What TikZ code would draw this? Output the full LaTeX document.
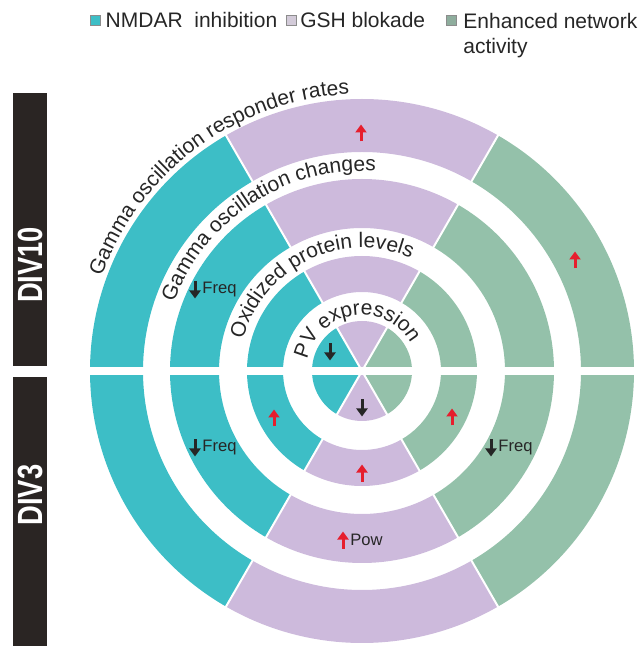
\documentclass[tikz,border=0pt]{standalone}
\usepackage{fontspec}
\setmainfont{Liberation Sans}
\usepackage{graphicx}
\usetikzlibrary{arrows.meta, decorations.text, positioning}

\definecolor{nmdar}{RGB}{61,190,198}
\definecolor{gshblk}{RGB}{205,186,220}
\definecolor{enhnet}{RGB}{148,193,170}
\definecolor{divbar}{RGB}{42,37,35}
\definecolor{upred}{RGB}{230,30,45}

\newcommand{\ringfont}{\fontsize{10.5}{12}\selectfont\color{black!85}}
% colour, start angle, end angle, inner radius, outer radius
\newcommand{\ringsector}[5]{%
  \fill[#1] (#2:#4) arc[start angle=#2, end angle=#3, radius=#4]
    -- (#3:#5) arc[start angle=#3, end angle=#2, radius=#5] -- cycle;}

\begin{document}
\begin{tikzpicture}[x=0.5pt, y=0.5pt,
    legsq/.style={draw=black!45, line width=0.4pt, minimum size=5pt, inner sep=0pt},
    legtxt/.style={font=\fontsize{10.5}{12.5}\selectfont, text=black!85, inner sep=0pt, align=left},
    ringtxt/.style={decorate, decoration={text along path, text align=left, text={|\ringfont|#1}}},
    divtxt/.style={text=white, rotate=90, inner sep=0pt, font=\fontsize{17.5}{20}\selectfont\bfseries},
    effect/.style={font=\fontsize{8.3}{10}\selectfont, inner sep=0pt, anchor=west, text=black!85},
    uparr/.pic={\draw[upred, line width=1.5pt, -{Triangle[width=5.5pt,length=4pt]}] (0,-8.5) -- (0,8.5);},
    dnarr/.pic={\draw[black!85, line width=1.5pt, -{Triangle[width=5.5pt,length=4pt]}] (0,8.5) -- (0,-8.5);}
  ]
  \useasboundingbox (-362,-275) rectangle (280,371);

  % legend
  \node[legsq, fill=nmdar] (sq1) at (-266.5,351) {};
  \node[legtxt, right=2.2pt of sq1] (lg1) {NMDAR\ \ inhibition};
  \node[legsq, fill=gshblk!70!gray!60] (sq2) at (-70.5,351) {};
  \node[legtxt, right=1.5pt of sq2] (lg2) {GSH blokade};
  \node[legsq, fill=enhnet!70!gray] (sq3) at (89,351) {};
  \node[legtxt, anchor=north west] (lg3) at (101,358.3) {Enhanced network\\activity};

  % DIV bars
  \fill[divbar] (-349,5) rectangle (-315,278);
  \fill[divbar] (-349,-6) rectangle (-315,-276);
  \node[divtxt] (div10) at (-332,106) {\scalebox{0.78}[1]{DIV10}};
  \node[divtxt] (div3) at (-332,-124) {\scalebox{0.78}[1]{DIV3}};

  % sectors
  \foreach \col/\a/\b in {enhnet/0/60, gshblk/60/120, nmdar/120/180,
                          nmdar/180/240, gshblk/240/300, enhnet/300/360}{
    \fill[\col] (0,0) -- (\a:50) arc[start angle=\a, end angle=\b, radius=50] -- cycle;
    \foreach \ri/\ro in {219/272, 143/192, 79/115}{
      \ringsector{\col}{\a}{\b}{\ri}{\ro}
    }
  }
  \foreach \a in {60,120,240,300}
    \draw[white, line width=1pt] (0,0) -- (\a:280);
  \fill[white] (-280,-4) rectangle (280,4);

  % ring titles
  \path[ringtxt={Gamma oscillation responder rates}] (160:277) arc[start angle=160, end angle=10, radius=277];
  \path[ringtxt={Gamma oscillation changes}] (160:200) arc[start angle=160, end angle=10, radius=200];
  \path[ringtxt={Oxidized protein levels}] (165:123) arc[start angle=165, end angle=10, radius=123];
  \path[ringtxt={PV expression}] (168:56) arc[start angle=168, end angle=5, radius=56];

  % effects
  \pic at (-1,238) {uparr};
  \pic at (213,111) {uparr};
  \pic at (-167,81) {dnarr};
  \node[effect] (frq1) at (-160,81) {Freq};
  \pic at (-32,19) {dnarr};
  \pic at (0,-37) {dnarr};
  \pic at (-88,-47) {uparr};
  \pic at (0,-102) {uparr};
  \pic at (90,-46) {uparr};
  \pic at (-167,-77) {dnarr};
  \node[effect] (frq2) at (-160,-77) {Freq};
  \pic at (129,-77) {dnarr};
  \node[effect] (frq3) at (136,-77) {Freq};
  \pic at (-19,-169) {uparr};
  \node[effect] (pow) at (-12,-169) {Pow};
\end{tikzpicture}
\end{document}
